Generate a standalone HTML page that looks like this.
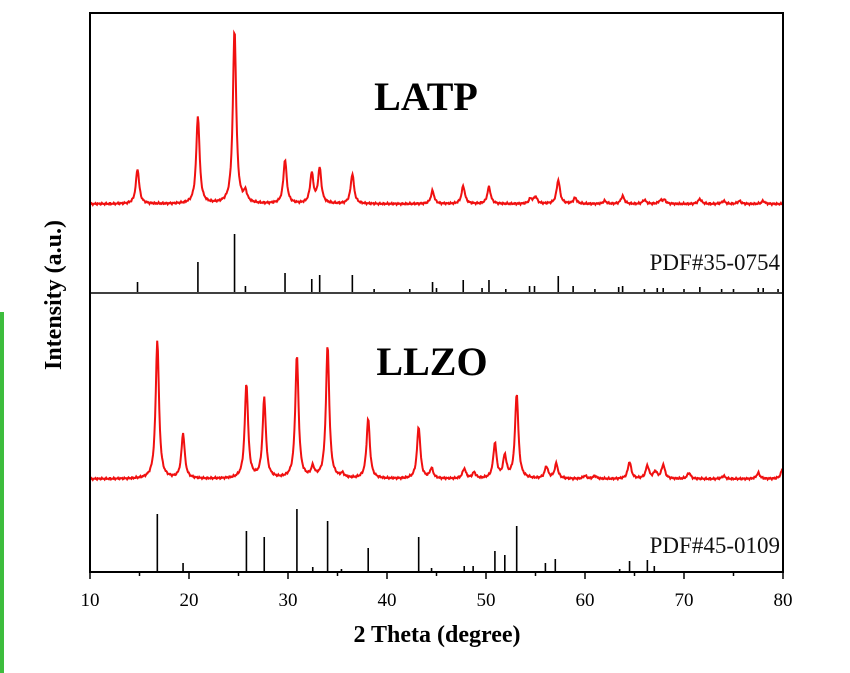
<!DOCTYPE html>
<html><head><meta charset="utf-8"><style>
body{margin:0;background:#fff;width:850px;height:673px;overflow:hidden}
svg{display:block;font-family:"Liberation Serif",serif}
</style></head><body>
<svg id="s" width="850" height="673" xmlns="http://www.w3.org/2000/svg">
<rect x="0" y="312" width="4" height="361" fill="#3dbd3d"/>
<g id="g"></g>
<rect x="90" y="13" width="693" height="559" fill="none" stroke="#000" stroke-width="2"/>
<line x1="90" y1="293" x2="783" y2="293" stroke="#000" stroke-width="1.5"/>
<text x="426" y="110" font-size="40" font-weight="bold" text-anchor="middle">LATP</text>
<text x="432" y="375" font-size="40" font-weight="bold" text-anchor="middle">LLZO</text>
<text x="780" y="270" font-size="23" text-anchor="end" fill="#111">PDF#35-0754</text>
<text x="780" y="553" font-size="23" text-anchor="end" fill="#111">PDF#45-0109</text>
<text x="437" y="642" font-size="24" font-weight="bold" text-anchor="middle">2 Theta (degree)</text>
<text transform="translate(61,295) rotate(-90)" font-size="24" font-weight="bold" text-anchor="middle">Intensity (a.u.)</text>
</svg>
<script>
var g=document.getElementById('g'),NS='http://www.w3.org/2000/svg';
function X(v){return 90+(v-10)*693/70}
function el(t,a){var e=document.createElementNS(NS,t);for(var k in a)e.setAttribute(k,a[k]);g.appendChild(e);return e}
function curve(base,pk){var d='';for(var px=90;px<=783;px+=0.7){var v=10+(px-90)*70/693,y=0;pk.forEach(function(p){var w=0.2;y+=p[1]/(1+Math.pow((v-p[0])/w,2))});y+=Math.sin(px*3.1)*0.6+Math.sin(px*7.3)*0.5;d+=(d?'L':'M')+px.toFixed(1)+','+(base-y).toFixed(1)}
el('path',{d:d,fill:'none',stroke:'#f01010','stroke-width':2})}
function sticks(base,st){st.forEach(function(p){el('line',{x1:X(p[0]),x2:X(p[0]),y1:base,y2:base-p[1],stroke:'#000','stroke-width':1.6})})}
curve(204,[[14.8,35],[20.9,88],[24.6,175],[25.7,10],[29.7,44],[32.4,30],[33.2,35],[36.5,30],[44.6,13],[47.7,18],[50.3,17],[54.5,5],[55,7],[57.3,24],[59,6],[62,3],[63.8,8],[66,4],[67.6,3],[68,4],[71.6,5],[74,3],[75.6,3],[78,3]]);
sticks(292,[[14.8,10],[20.9,30],[24.6,58],[25.7,6],[29.7,19],[32.4,13],[33.2,17],[36.5,17],[38.7,3],[42.3,3],[44.6,10],[45,4],[47.7,12],[49.6,4],[50.3,12],[52,3],[54.4,6],[54.9,6],[57.3,16],[58.8,6],[61,3],[63.4,5],[63.8,6],[66,3],[67.3,4],[67.9,4],[70,3],[71.6,5],[73.8,3],[75,3],[77.5,4],[78,4],[79.5,3]]);
curve(479,[[16.8,139],[19.4,45],[25.8,95],[27.6,80],[30.9,123],[32.5,10],[34.0,133],[35.5,4],[38.1,60],[43.2,52],[44.5,10],[47.8,10],[48.8,6],[50.9,35],[51.9,22],[53.1,85],[56.1,12],[57.1,15],[60,3],[61,3],[64.5,17],[66.3,13],[67.1,7],[67.9,14],[70.5,6],[74,3],[77.5,6],[80,12]]);
sticks(571,[[16.8,57],[19.4,8],[25.8,40],[27.6,34],[30.9,62],[32.5,4],[34.0,50],[35.4,2],[38.1,23],[43.2,34],[44.5,3],[47.8,5],[48.7,5],[50.9,20],[51.9,16],[53.1,45],[56,8],[57,12],[63.5,2],[64.5,10],[66.3,11],[67,5]]);
for(var v=10;v<=80;v+=5){var maj=v%10==0;el('line',{x1:X(v),x2:X(v),y1:572,y2:572+(maj?7:4),stroke:'#000','stroke-width':1.5});
if(maj){var t=el('text',{x:X(v),y:606,'font-size':19,'text-anchor':'middle'});t.textContent=v}}
</script>
</body></html>
